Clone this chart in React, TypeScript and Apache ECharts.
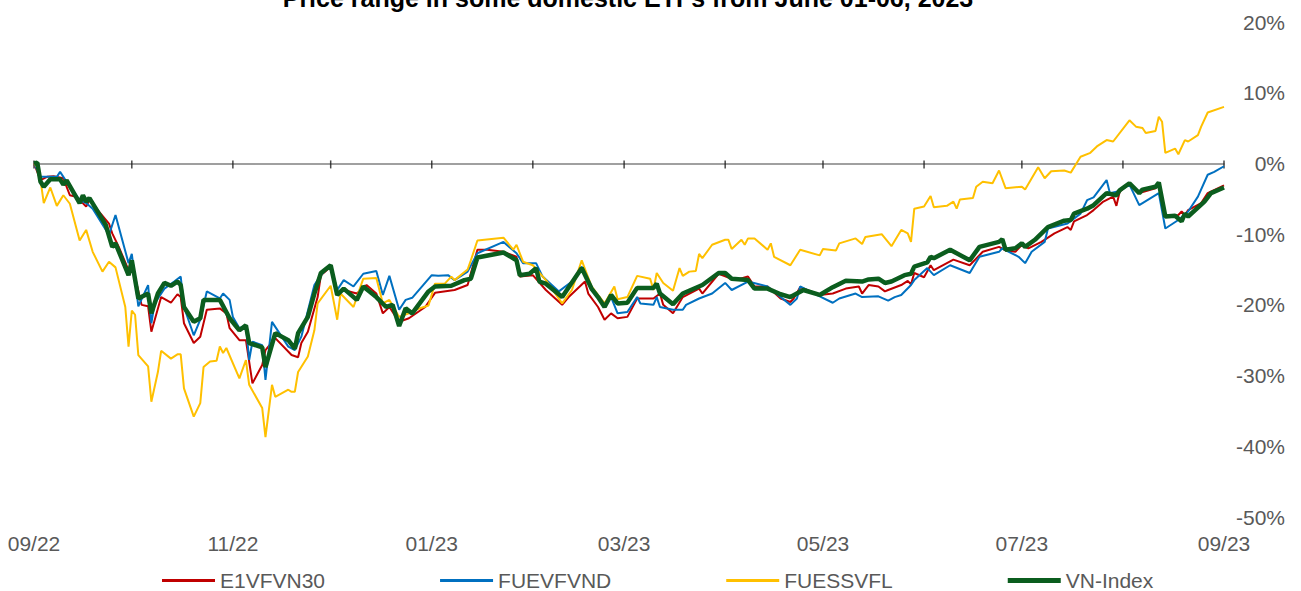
import React, { useEffect, useRef } from "react";
import * as echarts from "echarts";

const titleText = "Price range in some domestic ETFs from June 01-06, 2023";
const seriesNames = ["E1VFVN30", "FUEVFVND", "FUESSVFL", "VN-Index"];
const seriesColors = ["#C00000", "#0070C0", "#FFC000", "#0B5D1E"];
const yTicks = { min: -50, max: 20, step: 10 };
const axisStart = "2022-09-01";
const axisEnd = "2023-09-01";
const labelMonths = ["09", "11", "01", "03", "05", "07"];

const e1vfvn30: [string, number][] = [
  ["2022-09-01", 0], ["2022-09-03", -2.35], ["2022-09-05", -1.9], ["2022-09-07", -1.8], ["2022-09-10", -2.1],
  ["2022-09-12", -4.5], ["2022-09-14", -4.7], ["2022-09-17", -6.1], ["2022-09-18", -5.2], ["2022-09-24", -8.5],
  ["2022-09-25", -9.9], ["2022-09-27", -11.8], ["2022-09-30", -15.1], ["2022-10-01", -14.1], ["2022-10-04", -20.0],
  ["2022-10-06", -20.2], ["2022-10-07", -23.8], ["2022-10-10", -18.9], ["2022-10-13", -19.7], ["2022-10-15", -18.5],
  ["2022-10-16", -18.9], ["2022-10-17", -22.6], ["2022-10-20", -25.4], ["2022-10-22", -24.5], ["2022-10-24", -20.7],
  ["2022-10-28", -20.5], ["2022-10-30", -21.2], ["2022-10-31", -23.3], ["2022-11-03", -25.0], ["2022-11-05", -25.0],
  ["2022-11-07", -31.1], ["2022-11-10", -28.5], ["2022-11-11", -26.4], ["2022-11-14", -24.7], ["2022-11-19", -27.1],
  ["2022-11-21", -27.4], ["2022-11-22", -25.4], ["2022-11-24", -23.8], ["2022-11-27", -18.9], ["2022-11-28", -15.8],
  ["2022-12-01", -14.6], ["2022-12-03", -18.4], ["2022-12-05", -17.9], ["2022-12-09", -18.4], ["2022-12-12", -17.2],
  ["2022-12-15", -18.4], ["2022-12-17", -21.2], ["2022-12-19", -20.3], ["2022-12-22", -22.4], ["2022-12-25", -21.9],
  ["2022-12-30", -20.3], ["2023-01-02", -18.3], ["2023-01-08", -17.9], ["2023-01-12", -17.2], ["2023-01-15", -12.2],
  ["2023-01-18", -12.2], ["2023-01-23", -12.5], ["2023-01-27", -13.2], ["2023-01-28", -16.0], ["2023-02-01", -15.8],
  ["2023-02-05", -17.9], ["2023-02-10", -20.0], ["2023-02-12", -18.9], ["2023-02-17", -16.7], ["2023-02-18", -18.4],
  ["2023-02-21", -20.3], ["2023-02-23", -22.1], ["2023-02-25", -21.2], ["2023-02-27", -21.9], ["2023-03-02", -21.7],
  ["2023-03-05", -19.1], ["2023-03-10", -19.1], ["2023-03-12", -18.4], ["2023-03-13", -20.0], ["2023-03-16", -21.2],
  ["2023-03-19", -18.9], ["2023-03-24", -17.7], ["2023-03-25", -18.4], ["2023-03-30", -15.6], ["2023-04-04", -16.5],
  ["2023-04-08", -16.0], ["2023-04-10", -17.4], ["2023-04-14", -17.4], ["2023-04-18", -19.1], ["2023-04-21", -19.6],
  ["2023-04-22", -19.1], ["2023-04-24", -17.5], ["2023-04-30", -18.6], ["2023-05-04", -18.4], ["2023-05-08", -17.7],
  ["2023-05-12", -17.4], ["2023-05-13", -18.4], ["2023-05-15", -17.2], ["2023-05-18", -17.4], ["2023-05-20", -18.1],
  ["2023-05-21", -17.9], ["2023-05-25", -17.2], ["2023-05-27", -16.6], ["2023-05-28", -17.1], ["2023-05-29", -15.5],
  ["2023-06-01", -16.1], ["2023-06-03", -14.4], ["2023-06-04", -15.1], ["2023-06-10", -13.6], ["2023-06-15", -14.4],
  ["2023-06-19", -12.5], ["2023-06-24", -11.8], ["2023-06-26", -12.3], ["2023-06-29", -12.5], ["2023-07-01", -11.5],
  ["2023-07-03", -12.0], ["2023-07-07", -11.1], ["2023-07-11", -9.9], ["2023-07-15", -9.0], ["2023-07-16", -9.4],
  ["2023-07-17", -8.2], ["2023-07-21", -7.3], ["2023-07-23", -6.6], ["2023-07-26", -5.4], ["2023-07-29", -4.7],
  ["2023-07-30", -6.0], ["2023-07-31", -4.0], ["2023-08-03", -2.8], ["2023-08-06", -4.2], ["2023-08-11", -3.5],
  ["2023-08-12", -3.1], ["2023-08-14", -7.5], ["2023-08-18", -7.3], ["2023-08-19", -6.8], ["2023-08-20", -7.3],
  ["2023-08-21", -6.6], ["2023-08-25", -5.6], ["2023-08-27", -4.2], ["2023-09-01", -3.1],
];

const fuevfvnd: [string, number][] = [
  ["2022-09-01", 0], ["2022-09-03", -1.9], ["2022-09-05", -1.9], ["2022-09-08", -1.9], ["2022-09-09", -1.2],
  ["2022-09-11", -2.6], ["2022-09-15", -5.2], ["2022-09-17", -5.6], ["2022-09-19", -6.4], ["2022-09-24", -10.1],
  ["2022-09-26", -7.3], ["2022-09-30", -14.1], ["2022-10-01", -12.8], ["2022-10-03", -20.2], ["2022-10-06", -17.2],
  ["2022-10-07", -22.6], ["2022-10-08", -19.8], ["2022-10-11", -17.7], ["2022-10-14", -16.7], ["2022-10-16", -16.0],
  ["2022-10-17", -20.3], ["2022-10-20", -24.3], ["2022-10-22", -22.1], ["2022-10-24", -18.1], ["2022-10-28", -19.1],
  ["2022-10-29", -18.4], ["2022-10-31", -19.3], ["2022-11-01", -21.7], ["2022-11-03", -23.3], ["2022-11-05", -22.9],
  ["2022-11-06", -27.8], ["2022-11-07", -25.2], ["2022-11-10", -25.7], ["2022-11-11", -30.6], ["2022-11-13", -22.4],
  ["2022-11-18", -25.9], ["2022-11-20", -26.4], ["2022-11-22", -24.5], ["2022-11-26", -17.2], ["2022-11-28", -15.8],
  ["2022-12-01", -14.4], ["2022-12-03", -17.9], ["2022-12-05", -16.5], ["2022-12-08", -17.4], ["2022-12-11", -15.6],
  ["2022-12-15", -15.2], ["2022-12-17", -18.6], ["2022-12-19", -15.9], ["2022-12-22", -20.7], ["2022-12-24", -19.3],
  ["2022-12-26", -19.0], ["2023-01-01", -15.8], ["2023-01-03", -15.9], ["2023-01-06", -15.8], ["2023-01-08", -16.5],
  ["2023-01-10", -15.9], ["2023-01-12", -15.3], ["2023-01-15", -12.7], ["2023-01-23", -11.1], ["2023-01-27", -12.7],
  ["2023-01-29", -14.1], ["2023-02-02", -14.1], ["2023-02-04", -16.0], ["2023-02-09", -18.1], ["2023-02-13", -16.7],
  ["2023-02-16", -14.6], ["2023-02-19", -17.9], ["2023-02-23", -19.8], ["2023-02-25", -18.9], ["2023-02-27", -21.2],
  ["2023-03-02", -21.0], ["2023-03-05", -18.9], ["2023-03-06", -19.8], ["2023-03-10", -20.0], ["2023-03-11", -18.9],
  ["2023-03-12", -20.3], ["2023-03-16", -20.7], ["2023-03-19", -20.7], ["2023-03-20", -20.0], ["2023-03-24", -19.1],
  ["2023-03-28", -18.4], ["2023-04-01", -16.9], ["2023-04-03", -17.9], ["2023-04-08", -16.7], ["2023-04-14", -17.4],
  ["2023-04-18", -18.9], ["2023-04-21", -20.0], ["2023-04-23", -19.1], ["2023-04-24", -17.4], ["2023-04-30", -18.8],
  ["2023-05-04", -19.7], ["2023-05-06", -19.1], ["2023-05-11", -18.4], ["2023-05-13", -18.9], ["2023-05-18", -18.8],
  ["2023-05-21", -19.4], ["2023-05-23", -18.9], ["2023-05-25", -18.6], ["2023-05-28", -17.2], ["2023-05-29", -16.5],
  ["2023-06-02", -14.8], ["2023-06-04", -15.8], ["2023-06-09", -14.4], ["2023-06-15", -15.5], ["2023-06-18", -13.2],
  ["2023-06-24", -12.5], ["2023-06-25", -12.0], ["2023-06-27", -12.5], ["2023-06-30", -13.2], ["2023-07-02", -14.1],
  ["2023-07-04", -12.5], ["2023-07-08", -11.1], ["2023-07-09", -9.2], ["2023-07-15", -8.5], ["2023-07-19", -7.1],
  ["2023-07-21", -5.2], ["2023-07-23", -4.8], ["2023-07-27", -2.35], ["2023-07-28", -4.2], ["2023-07-31", -3.9],
  ["2023-08-03", -3.0], ["2023-08-06", -5.9], ["2023-08-12", -4.2], ["2023-08-14", -9.2], ["2023-08-18", -8.0],
  ["2023-08-21", -6.8], ["2023-08-24", -4.7], ["2023-08-27", -1.6], ["2023-08-29", -1.2], ["2023-09-01", -0.4],
];

const fuessvfl: [string, number][] = [
  ["2022-09-01", 0], ["2022-09-02", -0.5], ["2022-09-03", -2.35], ["2022-09-04", -5.6], ["2022-09-06", -3.4],
  ["2022-09-08", -6.0], ["2022-09-10", -4.5], ["2022-09-12", -5.7], ["2022-09-15", -10.9], ["2022-09-17", -9.4],
  ["2022-09-19", -12.5], ["2022-09-22", -15.3], ["2022-09-24", -13.9], ["2022-09-26", -14.7], ["2022-09-29", -20.3],
  ["2022-09-30", -25.9], ["2022-10-01", -20.8], ["2022-10-02", -21.4], ["2022-10-03", -27.1], ["2022-10-06", -28.7],
  ["2022-10-07", -33.7], ["2022-10-09", -29.5], ["2022-10-10", -26.5], ["2022-10-13", -27.6], ["2022-10-15", -27.0],
  ["2022-10-16", -27.0], ["2022-10-17", -31.8], ["2022-10-20", -35.8], ["2022-10-22", -33.9], ["2022-10-23", -28.8],
  ["2022-10-25", -28.0], ["2022-10-27", -27.9], ["2022-10-28", -25.9], ["2022-10-29", -26.8], ["2022-10-30", -26.1],
  ["2022-11-03", -30.4], ["2022-11-05", -27.8], ["2022-11-06", -31.3], ["2022-11-10", -34.6], ["2022-11-11", -38.7],
  ["2022-11-13", -31.3], ["2022-11-14", -33.0], ["2022-11-18", -32.0], ["2022-11-19", -32.3], ["2022-11-20", -32.3],
  ["2022-11-21", -29.5], ["2022-11-24", -27.3], ["2022-11-26", -23.6], ["2022-11-27", -19.8], ["2022-12-01", -17.3],
  ["2022-12-03", -22.1], ["2022-12-04", -18.4], ["2022-12-08", -20.3], ["2022-12-11", -16.3], ["2022-12-15", -16.2],
  ["2022-12-17", -19.8], ["2022-12-19", -19.3], ["2022-12-22", -21.7], ["2022-12-25", -21.2], ["2022-12-27", -20.7],
  ["2022-12-31", -20.1], ["2023-01-02", -17.0], ["2023-01-05", -17.0], ["2023-01-07", -16.0], ["2023-01-08", -16.5],
  ["2023-01-12", -15.0], ["2023-01-13", -13.7], ["2023-01-15", -10.9], ["2023-01-23", -10.5], ["2023-01-26", -12.2],
  ["2023-01-27", -11.5], ["2023-01-29", -13.9], ["2023-02-01", -14.4], ["2023-02-05", -16.5], ["2023-02-10", -19.8],
  ["2023-02-13", -17.9], ["2023-02-16", -13.7], ["2023-02-19", -17.4], ["2023-02-23", -19.8], ["2023-02-26", -17.4],
  ["2023-02-27", -19.2], ["2023-03-02", -18.9], ["2023-03-05", -15.9], ["2023-03-09", -16.3], ["2023-03-10", -17.9],
  ["2023-03-11", -15.5], ["2023-03-13", -16.9], ["2023-03-16", -18.0], ["2023-03-18", -14.8], ["2023-03-19", -15.9],
  ["2023-03-21", -15.3], ["2023-03-23", -15.2], ["2023-03-24", -12.8], ["2023-03-25", -13.4], ["2023-03-28", -11.5],
  ["2023-04-01", -10.8], ["2023-04-02", -10.8], ["2023-04-03", -12.1], ["2023-04-06", -10.8], ["2023-04-07", -11.5],
  ["2023-04-08", -10.6], ["2023-04-10", -10.6], ["2023-04-14", -12.2], ["2023-04-15", -11.3], ["2023-04-16", -13.2],
  ["2023-04-21", -14.4], ["2023-04-24", -12.2], ["2023-04-30", -13.0], ["2023-05-01", -12.1], ["2023-05-05", -12.3],
  ["2023-05-06", -11.3], ["2023-05-11", -10.6], ["2023-05-13", -11.4], ["2023-05-14", -10.4], ["2023-05-19", -10.0],
  ["2023-05-22", -11.7], ["2023-05-25", -9.4], ["2023-05-27", -9.9], ["2023-05-28", -11.1], ["2023-05-29", -6.4],
  ["2023-06-01", -6.1], ["2023-06-03", -4.6], ["2023-06-04", -6.2], ["2023-06-08", -6.0], ["2023-06-10", -5.4],
  ["2023-06-11", -6.4], ["2023-06-12", -5.1], ["2023-06-16", -4.9], ["2023-06-17", -3.3], ["2023-06-19", -2.6],
  ["2023-06-22", -2.8], ["2023-06-24", -1.0], ["2023-06-26", -3.5], ["2023-07-01", -3.3], ["2023-07-02", -3.7],
  ["2023-07-06", -0.55], ["2023-07-08", -2.1], ["2023-07-10", -1.1], ["2023-07-14", -1.0], ["2023-07-16", -1.3],
  ["2023-07-19", 0.95], ["2023-07-22", 1.5], ["2023-07-24", 2.4], ["2023-07-27", 3.3], ["2023-07-29", 3.1],
  ["2023-08-03", 6.1], ["2023-08-05", 5.2], ["2023-08-07", 5.0], ["2023-08-08", 4.3], ["2023-08-11", 4.6],
  ["2023-08-12", 6.6], ["2023-08-13", 5.9], ["2023-08-14", 1.5], ["2023-08-17", 2.1], ["2023-08-18", 1.3],
  ["2023-08-20", 3.3], ["2023-08-21", 3.1], ["2023-08-24", 4.0], ["2023-08-25", 5.2], ["2023-08-27", 7.2],
  ["2023-09-01", 8.0],
];

const vnIndex: [string, number][] = [
  ["2022-09-01", 0], ["2022-09-02", 0.1], ["2022-09-03", -2.6], ["2022-09-04", -3.3], ["2022-09-06", -2.25],
  ["2022-09-09", -2.25], ["2022-09-10", -3.0], ["2022-09-11", -2.4], ["2022-09-15", -5.6], ["2022-09-16", -4.5],
  ["2022-09-17", -5.4], ["2022-09-18", -4.9], ["2022-09-23", -8.7], ["2022-09-25", -11.8], ["2022-09-26", -11.3],
  ["2022-09-30", -15.8], ["2022-10-01", -13.7], ["2022-10-03", -19.1], ["2022-10-06", -18.4], ["2022-10-07", -21.2],
  ["2022-10-09", -18.4], ["2022-10-11", -16.9], ["2022-10-13", -17.3], ["2022-10-15", -16.7], ["2022-10-16", -17.2],
  ["2022-10-17", -20.3], ["2022-10-20", -22.4], ["2022-10-22", -21.9], ["2022-10-23", -19.3], ["2022-10-28", -19.3],
  ["2022-10-31", -21.9], ["2022-11-03", -23.6], ["2022-11-05", -22.9], ["2022-11-06", -25.4], ["2022-11-10", -26.0],
  ["2022-11-11", -28.8], ["2022-11-14", -24.0], ["2022-11-18", -25.0], ["2022-11-20", -26.2], ["2022-11-21", -24.0],
  ["2022-11-24", -21.7], ["2022-11-26", -18.4], ["2022-11-28", -15.5], ["2022-12-01", -14.4], ["2022-12-03", -18.6],
  ["2022-12-05", -17.7], ["2022-12-09", -19.3], ["2022-12-11", -17.4], ["2022-12-15", -18.9], ["2022-12-18", -20.3],
  ["2022-12-20", -20.0], ["2022-12-22", -23.0], ["2022-12-24", -20.5], ["2022-12-26", -21.2], ["2022-12-31", -18.1],
  ["2023-01-02", -17.4], ["2023-01-07", -17.3], ["2023-01-11", -16.5], ["2023-01-13", -16.3], ["2023-01-15", -13.3],
  ["2023-01-23", -12.6], ["2023-01-27", -13.7], ["2023-01-28", -15.8], ["2023-01-31", -15.6], ["2023-02-02", -14.8],
  ["2023-02-03", -16.7], ["2023-02-05", -17.0], ["2023-02-10", -18.9], ["2023-02-16", -14.8], ["2023-02-19", -17.7],
  ["2023-02-21", -18.9], ["2023-02-23", -20.3], ["2023-02-25", -18.6], ["2023-02-27", -19.8], ["2023-03-02", -19.7],
  ["2023-03-05", -17.6], ["2023-03-10", -17.6], ["2023-03-11", -17.0], ["2023-03-12", -18.4], ["2023-03-16", -19.9],
  ["2023-03-19", -18.4], ["2023-03-25", -17.2], ["2023-03-30", -15.5], ["2023-04-01", -15.5], ["2023-04-03", -16.3],
  ["2023-04-08", -16.5], ["2023-04-10", -17.7], ["2023-04-14", -17.7], ["2023-04-18", -18.5], ["2023-04-21", -18.9],
  ["2023-04-23", -18.4], ["2023-04-25", -17.9], ["2023-04-30", -18.6], ["2023-05-04", -17.5], ["2023-05-08", -16.6],
  ["2023-05-13", -16.7], ["2023-05-15", -16.4], ["2023-05-18", -16.3], ["2023-05-20", -16.9], ["2023-05-22", -16.7],
  ["2023-05-26", -15.8], ["2023-05-28", -15.6], ["2023-05-29", -14.6], ["2023-06-02", -14.0], ["2023-06-03", -13.2],
  ["2023-06-04", -13.4], ["2023-06-09", -12.2], ["2023-06-15", -13.7], ["2023-06-18", -11.8], ["2023-06-24", -11.1],
  ["2023-06-25", -10.7], ["2023-06-26", -12.2], ["2023-06-29", -12.0], ["2023-07-01", -11.3], ["2023-07-02", -11.8],
  ["2023-07-05", -10.8], ["2023-07-09", -9.0], ["2023-07-14", -8.1], ["2023-07-16", -8.0], ["2023-07-17", -7.1],
  ["2023-07-21", -6.4], ["2023-07-23", -5.9], ["2023-07-27", -4.2], ["2023-07-30", -4.5], ["2023-07-31", -3.8],
  ["2023-08-03", -2.8], ["2023-08-06", -4.2], ["2023-08-07", -3.7], ["2023-08-11", -3.3], ["2023-08-12", -2.7],
  ["2023-08-14", -7.5], ["2023-08-17", -7.4], ["2023-08-19", -8.2], ["2023-08-20", -7.1], ["2023-08-21", -7.5],
  ["2023-08-26", -5.4], ["2023-08-28", -4.2], ["2023-09-01", -3.4],
];

const seriesData = [e1vfvn30, fuevfvnd, fuessvfl, vnIndex];
const seriesWidths = [2, 2, 2, 4.5];
const legendIconThickness = [3, 3, 3, 5];

function buildDays(start: string, end: string): string[] {
  const out: string[] = [];
  let t = Date.parse(start + "T00:00:00Z");
  const e = Date.parse(end + "T00:00:00Z");
  while (t <= e) {
    out.push(new Date(t).toISOString().slice(0, 10));
    t += 86400000;
  }
  return out;
}

export default function App() {
  const ref = useRef<HTMLDivElement>(null);
  useEffect(() => {
    if (!ref.current) return;
    const chart = echarts.init(ref.current, undefined, { renderer: "svg" });
    const days = buildDays(axisStart, axisEnd);
    const monthStarts = days.filter((d) => d.slice(8) === "01");
    const font = "'Liberation Sans', Arial, sans-serif";
    chart.setOption({
      animation: false,
      backgroundColor: "#ffffff",
      title: {
        text: titleText,
        left: 628,
        textAlign: "center",
        top: -15,
        padding: 0,
        textStyle: { fontFamily: font, fontSize: 25, fontWeight: "bold", color: "#000000" },
      },
      grid: { left: 34, right: 77, top: 22, bottom: 74, containLabel: false },
      legend: {
        data: seriesNames.map((name, i) => ({
          name,
          icon: "path://M0,0H53V" + legendIconThickness[i] + "H0Z",
        })),
        left: 162,
        top: 570,
        padding: 0,
        itemGap: 115,
        itemWidth: 53,
        itemHeight: 14,
        symbolKeepAspect: true,
        textStyle: { fontFamily: font, fontSize: 21, lineHeight: 18, color: "#595959" },
      },
      xAxis: [
        {
          type: "category",
          data: days,
          boundaryGap: false,
          axisLine: { show: true, onZero: true, lineStyle: { color: "#808080", width: 1.5 } },
          axisTick: { show: false },
          axisLabel: { show: false },
          splitLine: { show: false },
        },
        {
          type: "category",
          data: days,
          boundaryGap: false,
          position: "bottom",
          axisLine: { show: false, onZero: false },
          axisTick: { show: false },
          splitLine: { show: false },
          axisLabel: {
            show: true,
            interval: (_i: number, v: string) => v.slice(8) === "01" && labelMonths.includes(v.slice(5, 7)),
            formatter: (v: string) => v.slice(5, 7) + "/" + v.slice(2, 4),
            fontFamily: font,
            fontSize: 21,
            color: "#595959",
            margin: 16,
          },
        },
      ],
      yAxis: {
        type: "value",
        position: "right",
        min: yTicks.min,
        max: yTicks.max,
        interval: yTicks.step,
        axisLine: { show: false },
        axisTick: { show: false },
        splitLine: { show: false },
        axisLabel: {
          formatter: "{value}%",
          fontFamily: font,
          fontSize: 21,
          color: "#595959",
          align: "right",
          margin: 61,
        },
      },
      series: [
        {
          name: "monthTicks",
          type: "scatter",
          xAxisIndex: 0,
          data: monthStarts.map((d) => [d, 0]),
          symbol: "rect",
          symbolSize: [1.5, 8],
          symbolOffset: [0, 1],
          itemStyle: { color: "#1a1a1a" },
          silent: true,
          z: 1,
        },
        ...seriesNames.map((name, i) => ({
          name,
          type: "line",
          xAxisIndex: 0,
          data: seriesData[i],
          symbol: "none",
          showSymbol: false,
          lineStyle: { color: seriesColors[i], width: seriesWidths[i] },
          itemStyle: { color: seriesColors[i] },
          z: 2 + i,
        })),
      ],
    });
    return () => chart.dispose();
  }, []);
  return <div ref={ref} style={{ position: "fixed", left: 0, top: 0, width: 1301, height: 591 }} />;
}
